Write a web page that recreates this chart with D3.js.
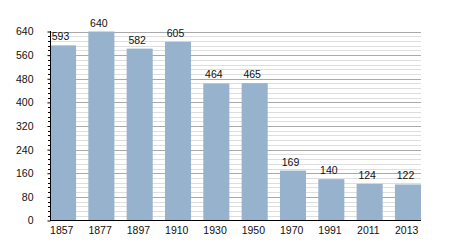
<!DOCTYPE html>
<html><head><meta charset="utf-8">
<script src="https://cdn.jsdelivr.net/npm/d3@7"></script>
<style>body{margin:0;background:#fff}svg{display:block}text{font-family:"Liberation Sans",Arial,sans-serif}</style>
</head><body>
<svg id="c" width="450" height="250"></svg>
<script>
const years = ["1857","1877","1897","1910","1930","1950","1970","1991","2011","2013"];
const population = [593,640,582,605,464,465,169,140,124,122];
const yTicks = [0,80,160,240,320,400,480,560,640];
const minorStep = 16;

const svg = d3.select("#c");
const x = d3.scaleBand().domain(years).range([50,421]).paddingInner(0.32).paddingOuter(0);
const y = d3.scaleLinear().domain([0,640]).range([220.5,31.5]);

const minor = d3.range(0,640+1,minorStep).filter(v=>v%80!==0);
svg.append("g").selectAll("line").data(minor).join("line")
  .attr("x1",50).attr("x2",421).attr("y1",d=>Math.round(y(d))+0.5).attr("y2",d=>Math.round(y(d))+0.5)
  .attr("stroke","#dedede").attr("stroke-width",1);
svg.append("g").selectAll("line").data(yTicks.filter(v=>v>0)).join("line")
  .attr("x1",50).attr("x2",421).attr("y1",d=>Math.round(y(d))+0.5).attr("y2",d=>Math.round(y(d))+0.5)
  .attr("stroke","#aaaaaa").attr("stroke-width",1);

svg.append("g").selectAll("rect").data(years).join("rect")
  .attr("x",d=>x(d)).attr("width",x.bandwidth())
  .attr("y",(d,i)=>y(population[i])).attr("height",(d,i)=>y(0)-y(population[i]))
  .attr("fill","#97b2cd");

svg.append("g").selectAll("text").data(years).join("text")
  .attr("x",d=>x(d)+x.bandwidth()/2-2.5).attr("y",(d,i)=>y(population[i])-5)
  .attr("text-anchor","middle").attr("font-size","10.5px").attr("fill","#111")
  .text((d,i)=>population[i]);

// y axis
const yAxis = d3.axisLeft(y).tickValues(yTicks).tickSize(3).tickPadding(14);
const ga = svg.append("g").attr("transform","translate(50.5,0)").call(yAxis);
ga.select(".domain").remove();
ga.selectAll("text").attr("font-size","10.5px").attr("fill","#111").style("font-family","'Liberation Sans Narrow','Liberation Sans',Arial,sans-serif");
ga.selectAll("line").attr("stroke","#000");
svg.append("g").selectAll("line").data(minor).join("line")
  .attr("x1",48).attr("x2",50).attr("y1",d=>Math.round(y(d))+0.5).attr("y2",d=>Math.round(y(d))+0.5)
  .attr("stroke","#000");
svg.append("line").attr("x1",50.5).attr("x2",50.5).attr("y1",31).attr("y2",221).attr("stroke","#000");

// x axis
const xAxis = d3.axisBottom(x).tickSize(0).tickPadding(6);
const gx = svg.append("g").attr("transform","translate(0,220.5)").call(xAxis);
gx.select(".domain").remove();
gx.selectAll("text").attr("font-size","10.5px").attr("fill","#111").attr("dx","-1.3");
svg.append("line").attr("x1",50).attr("x2",421).attr("y1",220.5).attr("y2",220.5).attr("stroke","#000");
</script>
</body></html>
